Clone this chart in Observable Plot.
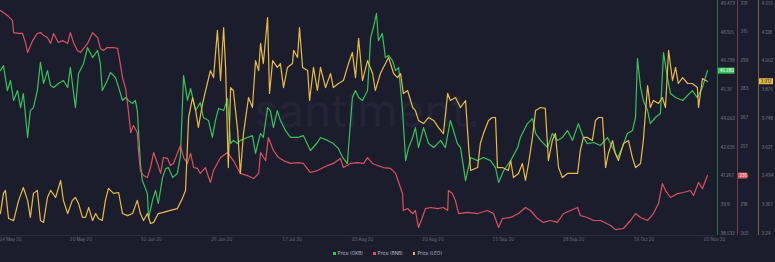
<!DOCTYPE html>
<html><head><meta charset="utf-8">
<script src="https://cdn.jsdelivr.net/npm/d3@7"></script>
<script src="https://cdn.jsdelivr.net/npm/@observablehq/plot@0.6"></script>
<style>
html,body{margin:0;padding:0;background:#1c1d2c;}
#wrap{position:relative;width:775px;height:262px;overflow:hidden;background:#1c1d2c;font-family:Inter,"Open Sans",sans-serif;}
#wm{position:absolute;left:254px;top:82px;font-size:46px;color:#232537;letter-spacing:0px;z-index:0;white-space:nowrap;}
#chart{position:absolute;left:0;top:0;z-index:1;}
#legend{position:absolute;left:0;top:249px;width:775px;height:10px;line-height:10px;text-align:center;font-size:4.6px;color:#b9bcc7;z-index:2;}
#legend span.item{display:inline-block;margin:0 5px;}
#legend span.sw{display:inline-block;width:2.6px;height:2.6px;margin-right:2px;vertical-align:middle;position:relative;top:-0.5px;}
</style></head><body>
<div id="wrap"><div id="wm">santiment.</div><div id="chart"></div><div id="legend"></div></div>
<script>
// ---- data: [day offset from 2020-05-01, price] ----
const okb = [[0.4,46.28],[1.2,46.52],[2.2,45.33],[3.0,45.81],[3.8,44.86],[4.8,45.33],[5.6,44.52],[6.3,45.19],[7.4,43.10],[8.1,44.38],[8.9,44.52],[9.9,45.33],[10.7,46.67],[11.5,45.67],[12.5,46.28],[13.3,45.57],[14.1,45.48],[15.3,45.67],[16.6,45.81],[17.7,45.48],[18.4,46.43],[19.7,44.52],[20.5,46.14],[21.8,46.62],[22.8,47.38],[24.1,46.90],[25.4,47.24],[26.1,46.62],[26.6,45.33],[27.9,45.81],[28.7,46.19],[30.0,45.95],[30.8,45.48],[31.8,44.86],[32.6,45.00],[33.3,44.86],[34.4,44.72],[35.1,44.86],[35.6,44.38],[36.4,41.86],[36.9,41.05],[38.2,40.43],[38.5,39.25],[39.5,40.10],[40.3,40.58],[41.0,39.96],[42.1,41.20],[42.9,41.62],[43.6,41.67],[44.7,41.20],[45.9,41.39],[46.7,42.24],[47.5,46.05],[48.5,44.86],[49.3,45.43],[50.6,44.38],[51.8,44.76],[52.6,44.05],[53.9,43.91],[54.9,43.10],[55.7,43.91],[56.5,44.48],[57.8,44.38],[58.8,44.95],[59.6,42.81],[60.3,42.96],[61.4,42.81],[62.1,42.96],[63.9,43.10],[65.2,43.19],[66.0,42.34],[66.8,42.96],[67.3,43.29],[68.0,43.10],[69.1,44.52],[69.8,44.38],[70.6,43.57],[71.6,44.38],[72.4,43.91],[73.7,43.43],[75.0,43.10],[76.8,43.10],[78.3,43.19],[80.1,42.48],[81.9,42.86],[82.7,43.10],[84.5,42.96],[86.0,42.81],[87.3,42.58],[88.4,42.15],[89.6,41.86],[90.9,45.00],[91.7,45.33],[92.5,45.00],[93.5,44.86],[94.8,45.33],[95.6,47.85],[96.3,48.33],[97.1,49.00],[97.6,47.71],[98.6,48.04],[99.4,46.90],[100.2,47.00],[101.2,46.76],[102.0,46.28],[102.8,46.43],[103.8,44.38],[104.6,42.00],[105.3,42.58],[106.4,43.10],[107.1,43.57],[107.9,42.62],[109.2,43.57],[110.5,42.81],[111.8,42.62],[113.6,42.96],[114.8,42.62],[116.1,43.91],[116.9,43.43],[117.9,42.81],[118.7,42.62],[120.0,41.05],[121.3,42.15],[123.1,42.00],[124.6,42.15],[126.4,42.00],[127.7,41.67],[128.5,40.96],[129.8,41.53],[131.6,42.00],[133.4,42.62],[134.1,43.10],[135.9,43.76],[137.2,44.00],[138.0,43.29],[139.3,42.96],[141.1,42.62],[142.3,43.29],[143.6,42.96],[144.9,43.10],[146.2,43.43],[147.5,42.96],[149.0,43.76],[150.3,43.10],[151.3,42.81],[152.9,42.86],[154.7,42.72],[156.5,43.10],[157.8,42.62],[159.1,42.15],[160.3,42.62],[161.6,43.29],[162.9,43.43],[163.7,44.05],[164.2,46.86],[165.0,45.48],[165.7,44.86],[166.8,44.38],[167.5,43.76],[168.8,44.05],[170.1,44.24],[170.9,47.14],[171.9,45.95],[172.7,45.19],[174.0,45.00],[175.8,44.86],[177.1,45.10],[178.3,45.33],[179.6,45.00],[180.9,45.48],[182.2,46.28]];

const bnb = [[0.4,327.1],[2.2,324.3],[3.5,321.5],[3.8,314.7],[5.1,314.2],[6.1,314.2],[6.9,308.6],[7.4,303.5],[8.7,310.2],[9.9,314.2],[10.7,314.7],[11.5,313.1],[12.5,311.9],[13.3,308.6],[14.1,314.2],[15.3,309.1],[16.4,310.2],[17.7,308.6],[18.4,314.7],[19.2,309.1],[20.2,304.6],[21.0,303.5],[22.8,308.6],[24.1,314.7],[25.4,311.9],[26.1,305.8],[26.9,304.6],[27.9,306.3],[29.5,306.3],[30.5,305.8],[31.0,300.2],[31.8,289.5],[32.6,283.3],[33.3,271.0],[33.9,258.6],[34.6,262.6],[35.6,258.6],[35.9,248.6],[36.4,237.3],[37.2,234.5],[38.2,233.4],[39.0,239.0],[39.8,247.4],[40.8,241.3],[41.6,235.7],[42.3,244.6],[43.4,244.1],[44.1,240.1],[44.9,241.3],[45.9,246.9],[46.7,251.4],[47.5,244.6],[48.5,241.3],[49.3,246.9],[50.1,239.0],[51.1,238.5],[51.8,235.7],[53.1,239.0],[54.4,230.6],[55.2,237.3],[57.0,244.6],[58.8,247.4],[60.3,242.9],[61.4,238.5],[62.1,235.7],[63.9,234.5],[65.5,232.8],[66.8,235.7],[67.3,247.4],[68.6,242.9],[69.3,255.8],[70.6,248.6],[71.9,244.6],[73.2,242.9],[75.0,241.3],[76.8,241.8],[78.3,241.3],[80.1,236.2],[81.9,237.3],[84.5,240.1],[86.0,241.3],[87.8,244.1],[88.6,239.0],[90.4,241.3],[92.2,241.8],[93.8,241.3],[94.8,244.6],[96.1,241.3],[97.4,240.1],[98.9,239.0],[100.7,238.5],[102.0,235.7],[102.8,230.6],[103.8,224.4],[104.0,214.9],[105.1,216.0],[106.4,213.2],[107.1,214.9],[107.9,205.4],[108.9,211.0],[109.7,216.0],[111.0,216.6],[112.8,216.0],[114.3,216.6],[115.4,214.9],[115.6,226.1],[116.6,224.4],[117.4,220.5],[118.2,213.2],[120.5,213.8],[123.1,213.2],[125.6,214.9],[127.2,213.2],[128.5,205.4],[129.5,210.4],[131.6,211.0],[133.6,213.2],[135.4,216.6],[136.7,214.9],[138.5,210.4],[140.0,208.2],[141.8,209.3],[143.6,208.2],[145.2,213.2],[147.0,214.9],[148.8,216.6],[149.5,212.1],[151.3,211.0],[152.9,209.3],[154.7,209.3],[157.3,206.5],[158.5,204.2],[160.6,204.8],[162.4,209.3],[163.7,213.2],[165.0,211.0],[166.8,209.3],[168.3,213.2],[169.6,218.8],[170.6,230.0],[171.4,226.1],[172.7,222.2],[174.5,224.4],[176.0,225.0],[177.8,226.1],[178.6,223.3],[179.9,230.6],[180.9,227.2],[182.2,234.5]];

const leo = [[0.4,3.328],[1.2,3.417],[1.7,3.430],[2.5,3.306],[3.8,3.297],[5.1,3.386],[6.3,3.443],[7.4,3.386],[8.1,3.311],[8.9,3.417],[9.9,3.430],[10.7,3.297],[11.5,3.289],[12.5,3.399],[13.3,3.430],[14.6,3.399],[15.9,3.474],[16.6,3.386],[17.7,3.328],[18.9,3.386],[19.7,3.399],[20.5,3.372],[21.5,3.311],[22.3,3.311],[23.1,3.355],[24.1,3.297],[24.9,3.328],[25.6,3.306],[26.6,3.297],[27.4,3.386],[28.2,3.439],[29.5,3.417],[30.8,3.421],[31.8,3.328],[33.1,3.319],[34.4,3.328],[35.6,3.386],[36.4,3.328],[37.2,3.297],[38.2,3.328],[39.0,3.284],[39.8,3.289],[41.0,3.328],[42.3,3.333],[44.1,3.342],[45.9,3.350],[47.2,3.395],[48.0,3.430],[48.8,3.752],[49.8,3.840],[50.6,3.783],[51.3,3.708],[52.4,3.814],[53.6,3.902],[54.4,3.959],[55.2,3.928],[56.2,4.136],[57.0,3.915],[57.8,4.149],[58.3,3.973],[59.0,3.531],[59.6,3.884],[60.3,3.871],[61.4,3.695],[62.1,3.505],[62.9,3.681],[64.2,3.840],[65.2,3.796],[66.0,4.003],[66.8,3.959],[67.3,4.079],[68.0,3.990],[69.1,4.193],[69.6,3.858],[70.4,4.003],[71.6,3.973],[72.4,3.990],[73.2,3.884],[74.2,3.973],[75.5,3.990],[75.8,4.048],[76.8,4.017],[77.3,4.149],[78.1,3.973],[79.4,3.959],[79.9,3.827],[80.9,3.973],[81.9,3.871],[82.7,3.973],[84.0,3.884],[85.3,3.946],[86.0,3.884],[87.3,3.902],[88.6,3.915],[89.9,3.990],[90.9,4.039],[91.7,3.928],[92.5,4.101],[93.5,3.915],[94.8,4.003],[96.1,3.946],[96.8,3.871],[98.1,3.946],[99.4,3.990],[100.2,4.017],[101.5,3.946],[102.5,3.928],[103.3,3.946],[104.0,3.858],[105.1,3.871],[106.4,3.796],[107.1,3.783],[107.9,3.739],[109.2,3.725],[110.5,3.752],[111.8,3.739],[113.0,3.708],[114.3,3.681],[115.4,3.858],[116.1,3.827],[117.4,3.840],[118.7,3.796],[120.0,3.827],[120.8,3.620],[121.3,3.518],[123.1,3.531],[123.8,3.637],[124.6,3.681],[125.9,3.739],[126.9,3.752],[127.7,3.752],[128.2,3.531],[129.5,3.531],[131.0,3.518],[131.6,3.562],[132.3,3.487],[133.6,3.505],[134.6,3.549],[135.4,3.474],[136.2,3.549],[137.2,3.664],[138.0,3.783],[139.3,3.796],[140.5,3.792],[141.3,3.562],[142.3,3.650],[143.1,3.681],[143.9,3.531],[144.9,3.487],[146.2,3.505],[147.5,3.505],[148.8,3.505],[149.5,3.606],[150.3,3.664],[151.3,3.664],[152.6,3.650],[153.4,3.739],[154.2,3.752],[155.2,3.752],[156.0,3.531],[156.7,3.593],[157.8,3.650],[158.5,3.593],[159.3,3.562],[160.6,3.637],[161.9,3.650],[162.9,3.575],[163.7,3.531],[165.0,3.549],[165.7,3.650],[166.8,3.893],[167.5,3.796],[168.3,3.827],[169.6,3.814],[170.6,3.840],[171.4,3.796],[172.2,4.048],[173.2,3.915],[174.0,3.973],[174.7,3.902],[175.8,3.928],[177.1,3.902],[178.3,3.902],[179.6,3.884],[179.9,3.796],[180.9,3.924],[181.7,3.915],[182.2,3.912]];

// ---- axis ticks / labels ----
const okbTicks = [38.532, 39.9, 41.267, 42.635, 44.002, 45.37, 46.738, 48.105, 49.473];
const bnbTicks = [202, 218, 234, 251, 267, 283, 299, 315, 331];
const leoTicks = [3.240, 3.367, 3.494, 3.621, 3.748, 3.875, 4.002, 4.128, 4.255];
const xTickDays = [3, 21.1, 39.2, 57.3, 75.4, 93.5, 111.6, 129.7, 147.8, 165.9, 184];
const xTickLabels = ["04 May 20","20 May 20","10 Jun 20","26 Jun 20","17 Jul 20","03 Aug 20","20 Aug 20","11 Sep 20","28 Sep 20","16 Oct 20","01 Nov 20"];
const seriesNames = ["Price (OKB)", "Price (BNB)", "Price (LEO)"];
const xDomain = [0.43, 184.26];

const GREEN = "#36c35b", RED = "#d8525f", YELLOW = "#e8bc46";
const series = [
  {key: "OKB", data: okb, ticks: okbTicks, color: GREEN, axis: "#2c7447", dx: 2, fmt: v => v.toFixed(3), badgeText: "#ffffff"},
  {key: "BNB", data: bnb, ticks: bnbTicks, color: RED, axis: "#763a4a", dx: 22, fmt: v => String(Math.round(v)), badgeText: "#ffffff"},
  {key: "LEO", data: leo, ticks: leoTicks, color: YELLOW, axis: "#75683f", dx: 43, fmt: v => v.toFixed(3), badgeText: "#1c1d2c"}
];
const norm = (s, v) => (v - s.ticks[0]) / (s.ticks[s.ticks.length - 1] - s.ticks[0]);

const marks = [];
// baseline
marks.push(Plot.ruleY([0], {stroke: "#2a2c3e", dy: 2}));
// lines
for (const s of series) {
  marks.push(Plot.line(s.data, {x: d => d[0], y: d => norm(s, d[1]), stroke: s.color, strokeWidth: 1.2, strokeLinejoin: "round"}));
}
// right axes
for (const s of series) {
  marks.push(Plot.ruleX([xDomain[1]], {stroke: s.axis, strokeWidth: 1, dx: s.dx}));
  marks.push(Plot.text(s.ticks, {y: v => norm(s, v), text: v => String(v), frameAnchor: "right", dx: s.dx + 3, textAnchor: "start", fill: "#7c7f8e", fontSize: 4.3}));
}
// badges with last value
for (const s of series) {
  const last = s.data[s.data.length - 1];
  const w = s.fmt(last[1]).length * 2.4 + 2;
  marks.push(Plot.ruleY([last], {y: d => norm(s, d[1]), x1: () => xDomain[1], x2: () => xDomain[1], insetLeft: s.dx + 1, insetRight: -(s.dx + 1 + w), stroke: s.color, strokeWidth: 6}));
  marks.push(Plot.text([last], {y: d => norm(s, d[1]), text: d => s.fmt(d[1]), frameAnchor: "right", dx: s.dx + 2, textAnchor: "start", fill: s.badgeText, fontSize: 4.3}));
}
// x axis
marks.push(Plot.axisX(xTickDays, {anchor: "bottom", tickSize: 0, tickPadding: 2, label: null,
  tickFormat: d => xTickLabels[xTickDays.indexOf(d)], fontSize: 4.3}));

const chart = Plot.plot({
  width: 775, height: 248,
  marginLeft: 0, marginRight: 60, marginTop: 0, marginBottom: 13,
  style: {background: "transparent", color: "#6d7080", fontFamily: "Inter, 'Open Sans', sans-serif", overflow: "visible"},
  x: {type: "linear", domain: xDomain, axis: null},
  y: {domain: [0, 1], insetTop: 3, insetBottom: 2, axis: null},
  marks
});
document.getElementById("chart").appendChild(chart);

// legend
const legend = document.getElementById("legend");
series.forEach((s, i) => {
  const item = document.createElement("span");
  item.className = "item";
  const sw = document.createElement("span");
  sw.className = "sw";
  sw.style.background = s.color;
  item.appendChild(sw);
  item.appendChild(document.createTextNode(seriesNames[i]));
  legend.appendChild(item);
});
</script>
</body></html>
